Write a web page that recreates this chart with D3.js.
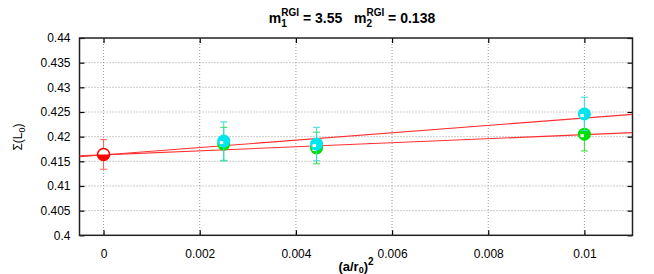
<!DOCTYPE html>
<html><head><meta charset="utf-8">
<script src="https://cdn.jsdelivr.net/npm/d3@7"></script>
<style>body{margin:0;background:#fff}svg{display:block;font-family:"Liberation Sans",Arial,sans-serif}</style>
</head><body><svg id="c" width="654" height="274"></svg>
<script>
const xTicks = [0, 0.002, 0.004, 0.006, 0.008, 0.01];
const xTickLabels = ["0", "0.002", "0.004", "0.006", "0.008", "0.01"];
const yTicks = [0.4, 0.405, 0.41, 0.415, 0.42, 0.425, 0.43, 0.435, 0.44];
const yTickLabels = ["0.4", "0.405", "0.41", "0.415", "0.42", "0.425", "0.43", "0.435", "0.44"];
const xDomain = [-0.0005, 0.011];
const yDomain = [0.4, 0.44];
// series: red (continuum), cyan, green
const redX = [0];
const redY = [0.4164];
const redErr = [0.003];
const cyanX = [0.0025, 0.00443, 0.01];
const cyanY = [0.4191, 0.4185, 0.4246];
const cyanErr = [0.0039, 0.0034, 0.0034];
const greenX = [0.0025, 0.00443, 0.01];
const greenY = [0.4185, 0.4177, 0.4205];
const greenErr = [0.0034, 0.0032, 0.0034];
// fit lines: intercept, slope
const fitIntercept = [0.4163, 0.4163];
const fitSlope = [0.747, 0.41];

const svg = d3.select("#c");
const L = 79.5, R = 632.5, T = 38, B = 235.3;
const x = d3.scaleLinear().domain(xDomain).range([L, R]);
const y = d3.scaleLinear().domain(yDomain).range([B, T]);

// grid
const g = svg.append("g");
g.selectAll(".gx").data(xTicks).enter().append("line")
  .attr("x1", d => x(d)).attr("x2", d => x(d)).attr("y1", T).attr("y2", B)
  .attr("stroke", "#999").attr("stroke-width", 1).attr("stroke-dasharray", "1,2");
g.selectAll(".gy").data(yTicks.slice(1, -1)).enter().append("line")
  .attr("y1", d => y(d)).attr("y2", d => y(d)).attr("x1", L).attr("x2", R)
  .attr("stroke", "#999").attr("stroke-width", 1).attr("stroke-dasharray", "1,2");

// axes
const fmtX = (d, i) => xTickLabels[i];
const fmtY = (d, i) => yTickLabels[i];
const axB = svg.append("g").attr("transform", `translate(0,${B})`)
  .call(d3.axisBottom(x).tickValues(xTicks).tickFormat(fmtX).tickSizeInner(-5).tickSizeOuter(0).tickPadding(14));
const axT = svg.append("g").attr("transform", `translate(0,${T})`)
  .call(d3.axisTop(x).tickValues(xTicks).tickFormat("").tickSizeInner(-5).tickSizeOuter(0));
const axL = svg.append("g").attr("transform", `translate(${L},0)`)
  .call(d3.axisLeft(y).tickValues(yTicks).tickFormat(fmtY).tickSizeInner(-5).tickSizeOuter(0).tickPadding(9));
const axR = svg.append("g").attr("transform", `translate(${R},0)`)
  .call(d3.axisRight(y).tickValues(yTicks).tickFormat("").tickSizeInner(-5).tickSizeOuter(0));
[axB, axT, axL, axR].forEach(a => {
  a.select(".domain").remove();
  a.selectAll(".tick line").attr("stroke", "#000").attr("stroke-width", 1.2);
  a.selectAll("text").attr("font-size", 12).attr("fill", "#000")
    .attr("font-family", '"Liberation Sans",Arial,sans-serif');
});
svg.append("rect").attr("x", L).attr("y", T).attr("width", R - L).attr("height", B - T)
  .attr("fill", "none").attr("stroke", "#222").attr("stroke-width", 1.5);

// fit lines
svg.append("clipPath").attr("id", "pc").append("rect")
  .attr("x", L).attr("y", T).attr("width", R - L).attr("height", B - T);
const lines = fitIntercept.map((a, i) => ({a, b: fitSlope[i]}));
svg.append("g").attr("clip-path", "url(#pc)").selectAll("line").data(lines).enter().append("line")
  .attr("x1", x(xDomain[0])).attr("x2", x(xDomain[1]))
  .attr("y1", d => y(d.a + d.b * xDomain[0])).attr("y2", d => y(d.a + d.b * xDomain[1]))
  .attr("stroke", "#ff3030").attr("stroke-width", 1.1);

function series(xs, ys, es, color, barColor, half) {
  const data = xs.map((v, i) => ({x: v, y: ys[i], e: es[i]}));
  const s = svg.append("g");
  data.forEach(d => {
    const cx = x(d.x), cy = y(d.y), y1 = y(d.y + d.e), y2 = y(d.y - d.e);
    s.append("line").attr("x1", cx).attr("x2", cx).attr("y1", y1).attr("y2", y2)
      .attr("stroke", barColor).attr("stroke-width", 1);
    [y1, y2].forEach(yy => s.append("line").attr("x1", cx - 3.5).attr("x2", cx + 3.5)
      .attr("y1", yy).attr("y2", yy).attr("stroke", barColor).attr("stroke-width", 1));
    if (half) {
      s.append("circle").attr("cx", cx).attr("cy", cy).attr("r", 6)
        .attr("fill", "#fff").attr("stroke", color).attr("stroke-width", 1.5);
      s.append("path").attr("d", `M${cx - 6},${cy}A6,6 0 0 0 ${cx + 6},${cy}Z`).attr("fill", color);
    } else {
      s.append("circle").attr("cx", cx).attr("cy", cy).attr("r", 6.5).attr("fill", color);
      s.append("rect").attr("x", cx - 4).attr("y", cy).attr("width", 3.5).attr("height", 3)
        .attr("fill", "#fff");
    }
  });
}
series(greenX, greenY, greenErr, "#00dd00", "#33dd33", false);
series(cyanX, cyanY, cyanErr, "#00e5ee", "#33dddd", false);
series(redX, redY, redErr, "#ff0000", "#ff6060", true);

// title
const title = svg.append("text").attr("x", 352).attr("y", 23).attr("text-anchor", "middle")
  .attr("font-size", 14).attr("font-weight", "bold");
title.append("tspan").text("m");
title.append("tspan").attr("font-size", 10).attr("dy", 4).text("1");
title.append("tspan").attr("font-size", 10).attr("dx", -5.5).attr("dy", -11).text("RGI");
title.append("tspan").attr("dy", 7).text(" = 3.55\u00a0\u00a0\u00a0m");
title.append("tspan").attr("font-size", 10).attr("dy", 4).text("2");
title.append("tspan").attr("font-size", 10).attr("dx", -5.5).attr("dy", -11).text("RGI");
title.append("tspan").attr("dy", 7).text(" = 0.138");

// x label
const xl = svg.append("text").attr("x", 356).attr("y", 271).attr("text-anchor", "middle")
  .attr("font-size", 13).attr("font-weight", "bold");
xl.append("tspan").text("(a/r");
xl.append("tspan").attr("font-size", 9).attr("dy", 2).text("0");
xl.append("tspan").attr("dy", -2).text(")");
xl.append("tspan").attr("font-size", 10).attr("dy", -6).text("2");

// y label
const yl = svg.append("text").attr("transform", "translate(22,137) rotate(-90)")
  .attr("text-anchor", "middle").attr("font-size", 12);
yl.append("tspan").text("Σ(L");
yl.append("tspan").attr("font-size", 9).attr("dy", 3).text("0");
yl.append("tspan").attr("dy", -3).text(")");
</script></body></html>
